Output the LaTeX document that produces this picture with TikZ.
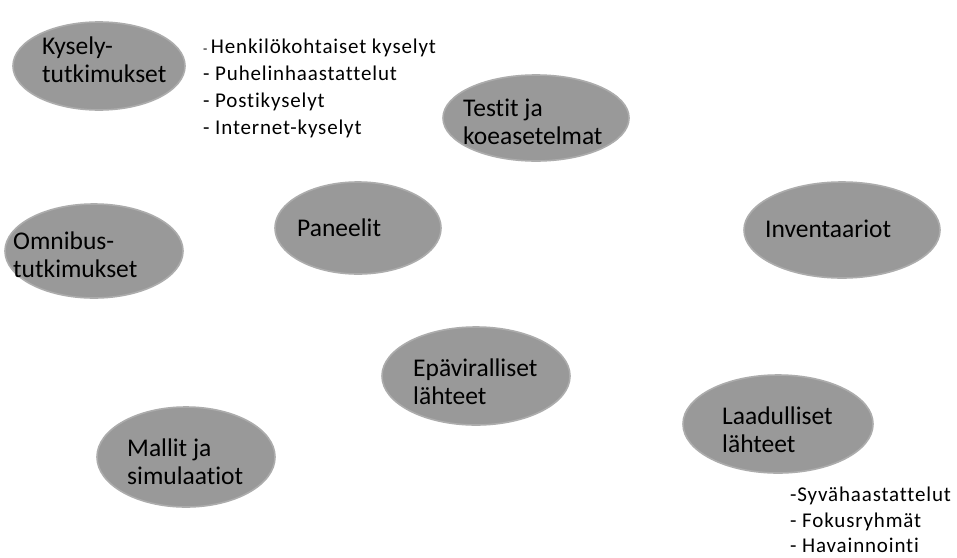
\documentclass[tikz,border=0pt]{standalone}
\usepackage{fontspec}
\setmainfont{Carlito}[Ligatures=NoCommon]
\newfontfamily\lstfont{Carlito}[Ligatures=NoCommon, LetterSpace=4]
\usetikzlibrary{shapes.geometric}
\definecolor{ellfill}{RGB}{153,153,153}
\definecolor{elldraw}{RGB}{172,172,172}
\tikzset{
  blob/.style={ellipse, fill=ellfill, draw=elldraw, line width=1.6pt, inner sep=0pt},
  lbl/.style={anchor=west, inner sep=0pt, align=left, font=\fontsize{25.5}{28}\selectfont},
  lst/.style={anchor=west, inner sep=0pt, align=left, font=\lstfont\fontsize{21}{27}\selectfont},
  lstb/.style={anchor=west, inner sep=0pt, align=left, font=\lstfont\fontsize{21}{25.5}\selectfont}
}
\begin{document}
\begin{tikzpicture}[x=1pt,y=-1pt]
\useasboundingbox (0,0) rectangle (957,557);
\fill[white] (0,0) rectangle (957,557);
% ellipses
\node[blob, minimum width=172, minimum height=88] (e1) at (99,66) {};
\node[blob, minimum width=178, minimum height=94] (e2) at (94,251) {};
\node[blob, minimum width=166, minimum height=92] (e3) at (358,228) {};
\node[blob, minimum width=186, minimum height=86] (e4) at (536,118) {};
\node[blob, minimum width=196, minimum height=96] (e5) at (842,230) {};
\node[blob, minimum width=188, minimum height=98] (e6) at (476,376) {};
\node[blob, minimum width=190, minimum height=98] (e7) at (778,424) {};
\node[blob, minimum width=178, minimum height=100] (e8) at (186,457) {};
% labels
\node[lbl] (t1) at (42,60) {Kysely-\\tutkimukset};
\node[lbl] (t2) at (13,255) {Omnibus-\\tutkimukset};
\node[lbl] (t3) at (297,228) {Paneelit};
\node[lbl] (t4) at (463,121.5) {Testit ja\\koeasetelmat};
\node[lbl] (t5) at (765,229) {Inventaariot};
\node[lbl] (t6) at (413,382) {Epäviralliset\\lähteet};
\node[lbl] (t7) at (722,430) {Laadulliset\\lähteet};
\node[lbl] (t8) at (127,462) {Mallit ja\\simulaatiot};
% lists
\node[lst] (l1) at (203,88) {{\fontsize{14}{14}\selectfont -}\,Henkilökohtaiset kyselyt\\- Puhelinhaastattelut\\- Postikyselyt\\- Internet-kyselyt};
\node[lstb] (l2) at (790,520) {-Syvähaastattelut\\- Fokusryhmät\\- Havainnointi};
\end{tikzpicture}
\end{document}
